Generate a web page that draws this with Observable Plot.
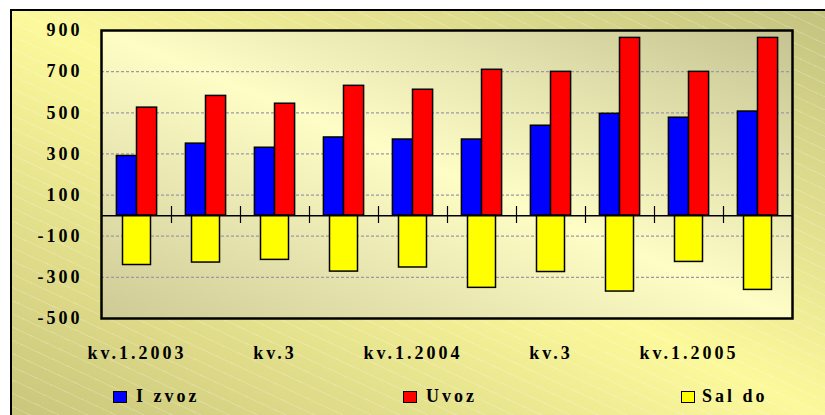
<!DOCTYPE html>
<html><head><meta charset="utf-8">
<script src="https://cdn.jsdelivr.net/npm/d3@7"></script>
<script src="https://cdn.jsdelivr.net/npm/@observablehq/plot@0.6"></script>
<style>
html,body{margin:0;padding:0;background:#fff;}
#wrap{position:relative;width:825px;height:415px;overflow:hidden;}
#bg{position:absolute;left:10px;top:9px;width:818px;height:412px;border:2px solid #000;box-sizing:border-box;
 background:
  repeating-linear-gradient(25deg, rgba(255,255,255,0) 0px, rgba(255,255,255,0) 11px, rgba(255,255,255,0.2) 11px, rgba(255,255,255,0.2) 12px),
  linear-gradient(to bottom left, #c4c37f 0%, #fcf99c 50%, #c9c57b 100%);}
#chart{position:absolute;left:0;top:0;}
#chart svg{background:transparent !important;overflow:visible;}
#chart svg text{font-family:"Liberation Serif",serif !important;font-weight:bold;font-size:18px !important;letter-spacing:3px;fill:#000;}
.sw{position:absolute;top:391px;width:14px;height:12px;border:1.5px solid #000;box-sizing:border-box;}
.lt{position:absolute;top:387px;font:bold 18px/18px "Liberation Serif",serif;letter-spacing:3px;color:#000;white-space:pre;}
</style>
</head><body>
<div id="wrap">
  <div id="bg"></div>
  <div id="chart"></div>
  <div id="legend"></div>
</div>
<script>
const quarters = ["2003 Q1","2003 Q2","2003 Q3","2003 Q4","2004 Q1","2004 Q2","2004 Q3","2004 Q4","2005 Q1","2005 Q2"];
const tickLabels = ["kv.1.2003","","kv.3","","kv.1.2004","","kv.3","","kv.1.2005",""];
const izvoz = [290, 350, 330, 380, 370, 370, 437, 495, 476, 506];
const uvoz  = [525, 582, 544, 631, 612, 709, 699, 864, 699, 864];
const saldo = [-240, -228, -215, -272, -252, -351, -274, -369, -225, -361];
const yTicks = [900, 700, 500, 300, 100, -100, -300, -500];
const gridValues = [700, 500, 300, 100, -100, -300];
const seriesNames = ["I zvoz", "Uvoz", "Sal do"];
const seriesColors = ["#0000ff", "#ff0000", "#ffff00"];

const rows = quarters.map((q, i) => ({q, izvoz: izvoz[i], uvoz: uvoz[i], saldo: saldo[i]}));
const labelOf = new Map(quarters.map((q, i) => [q, tickLabels[i]]));

function gradientDefs() {
  const ns = "http://www.w3.org/2000/svg";
  const defs = document.createElementNS(ns, "defs");
  const lg = document.createElementNS(ns, "linearGradient");
  lg.setAttribute("id", "plotBg");
  lg.setAttribute("x1", "1"); lg.setAttribute("y1", "0");
  lg.setAttribute("x2", "0"); lg.setAttribute("y2", "1");
  [["0", "#c5c391"], ["0.5", "#fffdc6"], ["1", "#cdca96"]].forEach(([o, c]) => {
    const s = document.createElementNS(ns, "stop");
    s.setAttribute("offset", o); s.setAttribute("stop-color", c);
    lg.appendChild(s);
  });
  defs.appendChild(lg);
  return defs;
}

const barStyle = {stroke: "#000", strokeWidth: 1.5};
const chart = Plot.plot({
  width: 825, height: 415,
  marginLeft: 101, marginRight: 33, marginTop: 30, marginBottom: 97,
  style: {background: "transparent"},
  x: {domain: quarters, padding: 0, tickSize: 0, tickPadding: 28, tickFormat: d => labelOf.get(d), label: null},
  y: {domain: [-500, 900], ticks: yTicks, tickSize: 0, tickPadding: 19, tickFormat: d => String(d), label: null},
  marks: [
    gradientDefs,
    Plot.frame({fill: "url(#plotBg)", stroke: "none"}),
    Plot.ruleY(gridValues, {stroke: "#9a9aa6", strokeWidth: 1.2, strokeDasharray: "3,2"}),
    Plot.barY(rows, {x: "q", y: "izvoz", fill: seriesColors[0], ...barStyle, insetLeft: 14.4, insetRight: 34.5}),
    Plot.barY(rows, {x: "q", y: "uvoz", fill: seriesColors[1], ...barStyle, insetLeft: 34.5, insetRight: 14.4}),
    Plot.barY(rows, {x: "q", y: "saldo", fill: seriesColors[2], ...barStyle, insetLeft: 20.5, insetRight: 20.5}),
    Plot.ruleY([0], {stroke: "#000", strokeWidth: 1.5}),
    Plot.ruleX(quarters.slice(1), {x: d => d, dx: -34.5, stroke: "#000", strokeWidth: 1.2, insetTop: 176, insetBottom: 95}),
    Plot.frame({stroke: "#000", strokeWidth: 2.5})
  ]
});
document.getElementById("chart").appendChild(chart);

const legendPos = [[113, 136], [403, 426], [681, 702]];
const legend = document.getElementById("legend");
seriesNames.forEach((name, i) => {
  const sw = document.createElement("div");
  sw.className = "sw"; sw.style.left = legendPos[i][0] + "px"; sw.style.background = seriesColors[i];
  const t = document.createElement("div");
  t.className = "lt"; t.style.left = legendPos[i][1] + "px"; t.textContent = name;
  legend.appendChild(sw); legend.appendChild(t);
});
</script>
</body></html>
